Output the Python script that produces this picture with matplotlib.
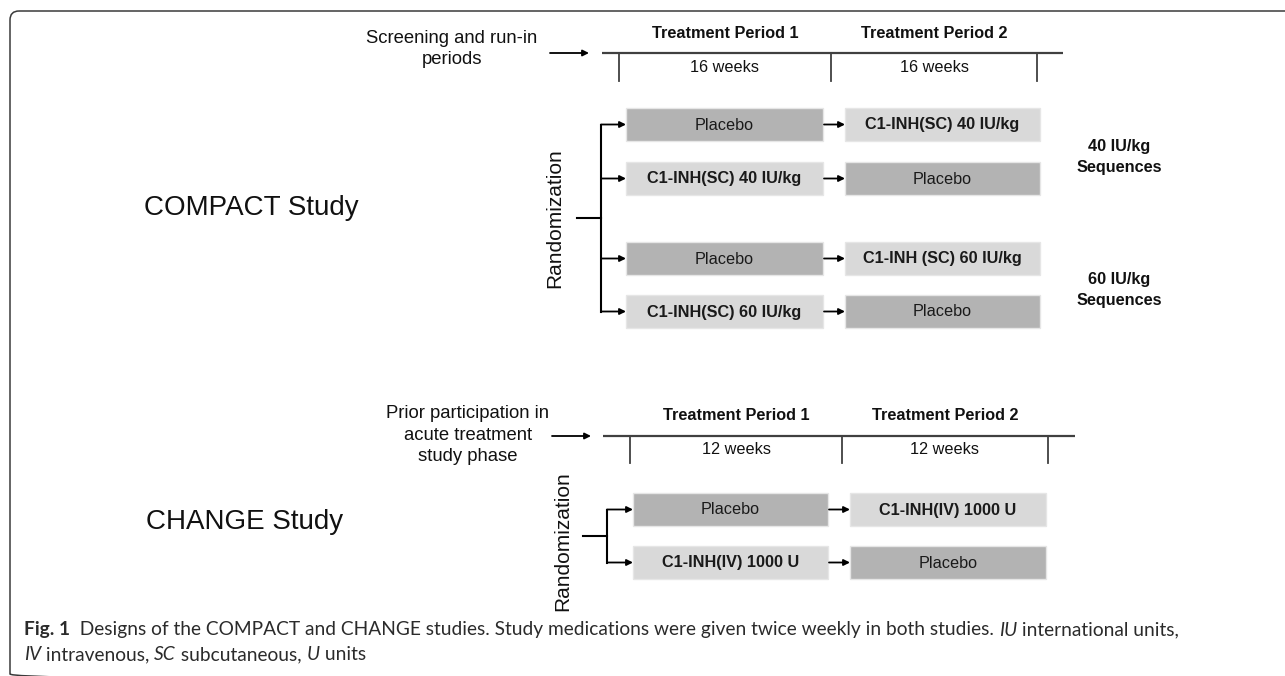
import matplotlib
matplotlib.use("Agg")
import matplotlib.pyplot as plt
from matplotlib.patches import Rectangle, FancyBboxPatch

# ---------------- data ----------------
study_names = ["COMPACT Study", "CHANGE Study"]
compact_pre = "Screening and run-in\nperiods"
change_pre = "Prior participation in\nacute treatment\nstudy phase"
period_labels = ["Treatment Period 1", "Treatment Period 2"]
compact_durations = ["16 weeks", "16 weeks"]
change_durations = ["12 weeks", "12 weeks"]
compact_p1 = ["Placebo", "C1-INH(SC) 40 IU/kg", "Placebo", "C1-INH(SC) 60 IU/kg"]
compact_p2 = ["C1-INH(SC) 40 IU/kg", "Placebo", "C1-INH (SC) 60 IU/kg", "Placebo"]
compact_groups = ["40 IU/kg\nSequences", "60 IU/kg\nSequences"]
change_p1 = ["Placebo", "C1-INH(IV) 1000 U"]
change_p2 = ["C1-INH(IV) 1000 U", "Placebo"]
rand_label = "Randomization"
caption_line1 = [("Fig. 1", "bold", "normal"),
                 ("  Designs of the COMPACT and CHANGE studies. Study medications were given twice weekly in both studies. ", "normal", "normal"),
                 ("IU", "normal", "italic"),
                 (" international units,", "normal", "normal")]
caption_line2 = [("IV", "normal", "italic"), (" intravenous, ", "normal", "normal"),
                 ("SC", "normal", "italic"), (" subcutaneous, ", "normal", "normal"),
                 ("U", "normal", "italic"), (" units", "normal", "normal")]

# ---------------- style ----------------
FONT = "Liberation Sans"
CAPFONT = "Lato"
DARK = "#b3b3b3"
LIGHT = "#d9d9d9"
LINE = "#404040"

W, H = 1285, 676
fig = plt.figure(figsize=(W / 100, H / 100), dpi=100)
ax = fig.add_axes([0, 0, 1, 1])
ax.set_xlim(0, W)
ax.set_ylim(H, 0)
ax.axis("off")

# frame (right and bottom edges fall outside the picture)
frame = FancyBboxPatch((10, 11), 1320, 672, boxstyle="round,pad=0,rounding_size=9",
                       fill=False, ec="#3a3a3a", lw=1.1)
ax.add_patch(frame)


def arrow(x0, x1, y, lw=1.3):
    ax.annotate("", xy=(x1, y), xytext=(x0, y),
                arrowprops=dict(arrowstyle="-|>", color="black", lw=lw,
                                mutation_scale=9, shrinkA=0, shrinkB=0))


def box(x0, x1, ytop, h, label, is_placebo):
    col = DARK if is_placebo else LIGHT
    ax.add_patch(Rectangle((x0, ytop), x1 - x0, h, fc=col, ec="#e6e6e6", lw=1.0))
    ax.text((x0 + x1) / 2, ytop + h / 2 + 0.5, label, ha="center", va="center",
            fontsize=11.7, family=FONT, color="#1a1a1a",
            fontweight="normal" if is_placebo else "bold")


def section(name, name_xy, pre, pre_xy, pre_arrow, tl_y, tl_x, ticks, tick_bot,
            per_y, dur_y, durations, p1, p2, col1, col2, row_tops, box_h,
            brk_x, stub_x0, rand_xy, groups=None, group_x=None, group_ys=None):
    ax.text(*name_xy, name, ha="center", va="center", fontsize=20, family=FONT, color="#111")
    ax.text(*pre_xy, pre, ha="center", va="center", fontsize=13.3, family=FONT,
            color="#111", linespacing=1.37)
    arrow(pre_arrow[0], pre_arrow[1], tl_y)
    ax.plot(tl_x, [tl_y, tl_y], color=LINE, lw=1.6, solid_capstyle="butt")
    for tx in ticks:
        ax.plot([tx, tx], [tl_y, tick_bot], color=LINE, lw=1.3)
    for i, lab in enumerate(period_labels):
        xc = (ticks[i] + ticks[i + 1]) / 2
        ax.text(xc, per_y, lab, ha="center", va="center", fontsize=11.7,
                family=FONT, fontweight="bold", color="#111")
        ax.text(xc, dur_y, durations[i], ha="center", va="center", fontsize=11.7,
                family=FONT, color="#111")
    centers = []
    for i, top in enumerate(row_tops):
        yc = top + box_h / 2
        centers.append(yc)
        box(col1[0], col1[1], top, box_h, p1[i], p1[i] == "Placebo")
        box(col2[0], col2[1], top, box_h, p2[i], p2[i] == "Placebo")
        arrow(col1[1] + 1, col2[0], yc)
        arrow(brk_x, col1[0], yc)
    ax.plot([brk_x, brk_x], [centers[0], centers[-1]], color="black", lw=1.5)
    mid = (centers[0] + centers[-1]) / 2
    ax.plot([stub_x0, brk_x], [mid, mid], color="black", lw=1.5)
    ax.text(*rand_xy, rand_label, rotation=90, ha="center", va="center",
            fontsize=15, family=FONT, color="#111")
    if groups:
        for g, gy in zip(groups, group_ys):
            ax.text(group_x, gy, g, ha="center", va="center", fontsize=11.7,
                    family=FONT, fontweight="bold", color="#111", linespacing=1.44)


# COMPACT
section(study_names[0], (251, 208), compact_pre, (452, 49), (550, 589),
        53, [602, 1063], [619, 831, 1037], 81, 34, 68, compact_durations,
        compact_p1, compact_p2, (626, 823), (845, 1040), [108, 162, 242, 295], 33,
        601, 577, (555, 218), compact_groups, 1119, [157, 290])

# CHANGE
section(study_names[1], (245, 522), change_pre, (468, 435), (552, 591),
        436, [603, 1075], [630, 842, 1048], 463, 416, 450, change_durations,
        change_p1, change_p2, (633, 828), (850, 1046), [493, 546], 33,
        607, 583, (563, 541))

# caption
fig.canvas.draw()
renderer = fig.canvas.get_renderer()


def draw_runs(runs, x, y, size=13.8):
    for txt, weight, style in runs:
        t = ax.text(x, y, txt, ha="left", va="center", fontsize=size, family=CAPFONT,
                    fontweight=weight, fontstyle=style, color="#2b2b2b")
        bb = t.get_window_extent(renderer)
        x += bb.width


draw_runs(caption_line1, 24, 630)
draw_runs(caption_line2, 24, 655)

fig.savefig("out.png", dpi=100)
